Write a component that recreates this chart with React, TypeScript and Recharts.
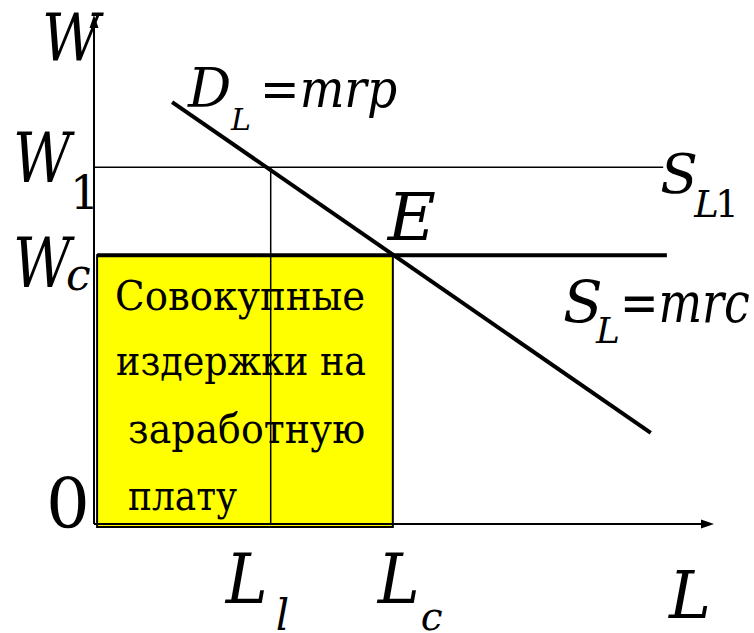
import React from 'react';
import {
  ComposedChart,
  Line,
  XAxis,
  YAxis,
  ReferenceLine,
  ReferenceArea,
  ReferenceDot,
} from 'recharts';

// Labour market under monopsony: L (labour) vs W (wage)
const demandCurve = [
  { L: 1.26, W: 8.29 },
  { L: 8.98, W: 1.79 },
];
const wageNames = ['W', 'W'];
const wageSubs = ['1', 'c'];
const wageValues = [7.01, 5.28];
const supplyLineEnds = [9.18, 9.24];
const laborNames = ['L', 'L'];
const laborSubs = ['l', 'c'];
const laborValues = [2.85, 4.82];
const axisMax = [10, 10];
const boxStart = [0.05, -0.06];
const boxTextLines = ['Совокупные', 'издержки на', 'заработную', 'плату'];

const FONT = 'DejaVu Serif';

const lbl = (t: string, dx: number, dy: number, size: number, italic = true, len?: number) => (p: any) => (
  <text
    x={(p?.cx ?? 0) + dx}
    y={(p?.cy ?? 0) + dy}
    fontSize={size}
    fontFamily={FONT}
    fontStyle={italic ? 'italic' : 'normal'}
    fill="#000"
    {...(len ? { textLength: len, lengthAdjust: 'spacingAndGlyphs' } : {})}
  >
    {t}
  </text>
);

const arrowShape = (p: any) => {
  const { x1, y1, x2, y2 } = p;
  if ([x1, y1, x2, y2].some((v) => typeof v !== 'number' || isNaN(v))) return <g />;
  const ang = Math.atan2(y2 - y1, x2 - x1);
  const len = 13;
  const half = 4.5;
  const bx = x2 - len * Math.cos(ang);
  const by = y2 - len * Math.sin(ang);
  const px = -Math.sin(ang) * half;
  const py = Math.cos(ang) * half;
  return (
    <g>
      <line x1={x1} y1={y1} x2={bx} y2={by} stroke="#000" strokeWidth={2} />
      <polygon points={`${x2},${y2} ${bx + px},${by + py} ${bx - px},${by - py}`} fill="#000" />
    </g>
  );
};

export default function App() {
  const [W1, Wc] = wageValues;
  const [L1, Lc] = laborValues;
  const [Lmax, Wmax] = axisMax;
  const D0 = demandCurve[0];
  return (
    <div style={{ position: 'absolute', left: 0, top: 0, width: 754, height: 633, background: '#fff' }}>
      <ComposedChart
        width={754}
        height={633}
        data={demandCurve}
        margin={{ top: 15, left: 94, right: 40, bottom: 98.82 }}
      >
        <XAxis type="number" dataKey="L" domain={[0, Lmax]} hide scale="linear" />
        <YAxis type="number" domain={[-0.2, Wmax]} hide scale="linear" />

        {/* total wage cost box */}
        <ReferenceArea
          x1={boxStart[0]}
          x2={Lc}
          y1={boxStart[1]}
          y2={Wc}
          fill="#FFFF00"
          fillOpacity={1}
          stroke="#000"
          strokeWidth={2}
          ifOverflow="visible"
        />

        {/* axes */}
        <ReferenceLine segment={[{ x: 0, y: 0 }, { x: 0, y: Wmax }]} shape={arrowShape} ifOverflow="visible" />
        <ReferenceLine segment={[{ x: 0, y: 0 }, { x: Lmax, y: 0 }]} shape={arrowShape} ifOverflow="visible" />

        {/* S_L1 wage line W1 */}
        <ReferenceLine
          segment={[{ x: 0, y: W1 }, { x: supplyLineEnds[0], y: W1 }]}
          stroke="#000"
          strokeWidth={1.5}
          ifOverflow="visible"
        />
        {/* L1 vertical */}
        <ReferenceLine
          segment={[{ x: L1, y: 0 }, { x: L1, y: W1 }]}
          stroke="#000"
          strokeWidth={1.5}
          ifOverflow="visible"
        />
        {/* S_L = mrc at Wc */}
        <ReferenceLine
          segment={[{ x: boxStart[0], y: Wc }, { x: supplyLineEnds[1], y: Wc }]}
          stroke="#000"
          strokeWidth={4}
          ifOverflow="visible"
        />

        {/* demand D_L = mrp */}
        <Line
          type="linear"
          dataKey="W"
          stroke="#000"
          strokeWidth={4}
          dot={false}
          activeDot={false}
          isAnimationActive={false}
        />

        {/* axis title W */}
        <ReferenceDot x={0} y={Wmax} r={0} ifOverflow="visible" shape={lbl('W', -52, 45, 66, true, 58)} />
        {/* W1 */}
        <ReferenceDot x={0} y={W1} r={0} ifOverflow="visible" shape={lbl(wageNames[0], -81, 15, 69, true, 58)} />
        <ReferenceDot x={0} y={W1} r={0} ifOverflow="visible" shape={lbl(wageSubs[0], -24, 42, 46, false)} />
        {/* Wc */}
        <ReferenceDot x={0} y={Wc} r={0} ifOverflow="visible" shape={lbl(wageNames[1], -81, 32, 69, true, 58)} />
        <ReferenceDot x={0} y={Wc} r={0} ifOverflow="visible" shape={lbl(wageSubs[1], -28, 35, 44)} />
        {/* D_L = mrp */}
        <ReferenceDot x={D0.L} y={D0.W} r={0} ifOverflow="visible" shape={lbl('D', 16, 5, 54)} />
        <ReferenceDot x={D0.L} y={D0.W} r={0} ifOverflow="visible" shape={lbl('L', 59, 28, 30)} />
        <ReferenceDot x={D0.L} y={D0.W} r={0} ifOverflow="visible" shape={lbl('=mrp', 88, 5, 52, true, 137)} />
        {/* E */}
        <ReferenceDot x={Lc} y={Wc} r={0} ifOverflow="visible" shape={lbl('E', -5, -15, 66)} />
        {/* S_L1 */}
        <ReferenceDot x={supplyLineEnds[0]} y={W1} r={0} ifOverflow="visible" shape={lbl('S', -3, 26, 55)} />
        <ReferenceDot x={supplyLineEnds[0]} y={W1} r={0} ifOverflow="visible" shape={lbl('L', 31, 50, 37)} />
        <ReferenceDot x={supplyLineEnds[0]} y={W1} r={0} ifOverflow="visible" shape={lbl('1', 52, 50, 37, false)} />
        {/* S_L = mrc */}
        <ReferenceDot x={supplyLineEnds[1]} y={Wc} r={0} ifOverflow="visible" shape={lbl('S', -104, 67, 58)} />
        <ReferenceDot x={supplyLineEnds[1]} y={Wc} r={0} ifOverflow="visible" shape={lbl('L', -71, 88, 36)} />
        <ReferenceDot x={supplyLineEnds[1]} y={Wc} r={0} ifOverflow="visible" shape={lbl('=mrc', -47, 67, 56, true, 130)} />
        {/* origin */}
        <ReferenceDot x={0} y={0} r={0} ifOverflow="visible" shape={lbl('0', -48, 4, 69, false)} />
        {/* L1, Lc, L */}
        <ReferenceDot x={L1} y={0} r={0} ifOverflow="visible" shape={lbl(laborNames[0], -45, 79, 69, true, 42)} />
        <ReferenceDot x={L1} y={0} r={0} ifOverflow="visible" shape={lbl(laborSubs[0], 5, 106, 42)} />
        <ReferenceDot x={Lc} y={0} r={0} ifOverflow="visible" shape={lbl(laborNames[1], -15, 79, 69, true, 42)} />
        <ReferenceDot x={Lc} y={0} r={0} ifOverflow="visible" shape={lbl(laborSubs[1], 28, 106, 39)} />
        <ReferenceDot x={Lmax} y={0} r={0} ifOverflow="visible" shape={lbl('L', -45, 94, 66, true, 42)} />
        {/* box text */}
        <ReferenceDot x={boxStart[0]} y={Wc} r={0} ifOverflow="visible" shape={lbl(boxTextLines[0], 18, 55, 41, false, 250)} />
        <ReferenceDot x={boxStart[0]} y={Wc} r={0} ifOverflow="visible" shape={lbl(boxTextLines[1], 19, 120, 41, false, 250)} />
        <ReferenceDot x={boxStart[0]} y={Wc} r={0} ifOverflow="visible" shape={lbl(boxTextLines[2], 31, 188, 41, false, 237)} />
        <ReferenceDot x={boxStart[0]} y={Wc} r={0} ifOverflow="visible" shape={lbl(boxTextLines[3], 31, 255, 41, false, 109)} />
      </ComposedChart>
    </div>
  );
}
